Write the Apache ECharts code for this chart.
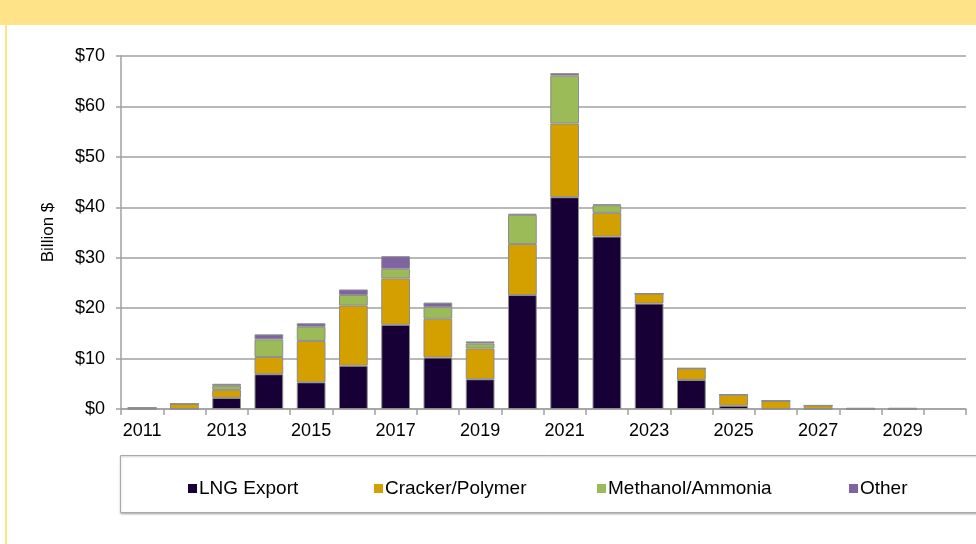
<!DOCTYPE html>
<html>
<head>
<meta charset="utf-8">
<script src="https://cdn.jsdelivr.net/npm/echarts@6/dist/echarts.min.js"></script>
<style>html,body{margin:0;padding:0;background:#fff;}#c{width:976px;height:544px;}</style>
</head>
<body>
<div id="c"></div>
<script>
var years = ['2011','2012','2013','2014','2015','2016','2017','2018','2019','2020','2021','2022','2023','2024','2025','2026','2027','2028','2029','2030'];
var lngExport = [0, 0, 2.2, 6.9, 5.3, 8.6, 16.7, 10.2, 5.9, 22.6, 42.0, 34.2, 20.9, 5.75, 0.65, 0, 0, 0, 0, null];
var crackerPolymer = [0.2, 1.0, 1.6, 3.4, 8.2, 11.9, 9.2, 7.7, 6.1, 10.1, 14.6, 4.7, 2.0, 2.3, 2.2, 1.6, 0.7, 0, 0, null];
var methanolAmmonia = [0, 0, 0.8, 3.5, 2.8, 2.1, 1.9, 2.3, 1.0, 5.8, 9.5, 1.5, 0, 0, 0, 0, 0, 0, 0, null];
var other = [0, 0, 0.4, 1.0, 0.7, 1.1, 2.5, 0.9, 0.4, 0.2, 0.5, 0.2, 0, 0, 0, 0, 0, 0.25, 0.25, null];
var seriesNames = ['LNG Export', 'Cracker/Polymer', 'Methanol/Ammonia', 'Other'];
var seriesColors = ['#170036', '#D4A000', '#9BBB59', '#8064A2'];
var seriesData = [lngExport, crackerPolymer, methanolAmmonia, other];

var font = 'Liberation Sans, Arial, sans-serif';
var chart = echarts.init(document.getElementById('c'));
var legendLefts = [183, 369, 592, 844];

chart.setOption({
  animation: false,
  backgroundColor: '#fff',
  graphic: [
    {type: 'rect', shape: {x: 0, y: 0, width: 976, height: 25}, style: {fill: '#FFE388'}},
    {type: 'rect', shape: {x: 5, y: 25, width: 2, height: 519}, style: {fill: '#FFE388'}},
    {type: 'rect', shape: {x: 120.5, y: 455.5, width: 880, height: 57}, style: {fill: '#fff', stroke: '#aaaaaa', lineWidth: 1, shadowColor: 'rgba(0,0,0,0.25)', shadowBlur: 2, shadowOffsetY: 1}, z: -1}
  ],
  grid: {left: 121, top: 56, width: 845, height: 353},
  legend: seriesNames.map(function (n, i) {
    return {
      data: [n], left: legendLefts[i], top: 474, itemWidth: 9, itemHeight: 9, itemGap: 0,
      icon: 'rect',
      textStyle: {fontFamily: font, fontSize: 19, color: '#000', padding: [0, 0, 0, -3]},
      itemStyle: {borderWidth: 0}
    };
  }),
  xAxis: {
    type: 'category', data: years,
    axisLine: {lineStyle: {color: '#a0a0a0', width: 1.5}},
    axisTick: {show: true, interval: 0, length: 6, lineStyle: {color: '#a0a0a0', width: 1.5}},
    axisLabel: {interval: 1, fontFamily: font, fontSize: 18, color: '#000', margin: 13}
  },
  yAxis: {
    type: 'value', min: 0, max: 70, interval: 10,
    name: 'Billion $', nameLocation: 'middle', nameRotate: 90, nameGap: 64,
    nameTextStyle: {fontFamily: font, fontSize: 17, color: '#000'},
    axisLine: {show: true, lineStyle: {color: '#a0a0a0', width: 1.5}},
    axisTick: {show: true, length: 5, lineStyle: {color: '#a0a0a0', width: 1.5}},
    axisLabel: {fontFamily: font, fontSize: 18, color: '#000', margin: 16, formatter: '${value}'},
    splitLine: {lineStyle: {color: '#a0a0a0', width: 1.5}}
  },
  series: seriesNames.map(function (n, i) {
    return {
      name: n, type: 'bar', stack: 'total', data: seriesData[i],
      barCategoryGap: '32%',
      itemStyle: {color: seriesColors[i], borderColor: '#8c8c8c', borderWidth: 1}
    };
  })
});
</script>
</body>
</html>
